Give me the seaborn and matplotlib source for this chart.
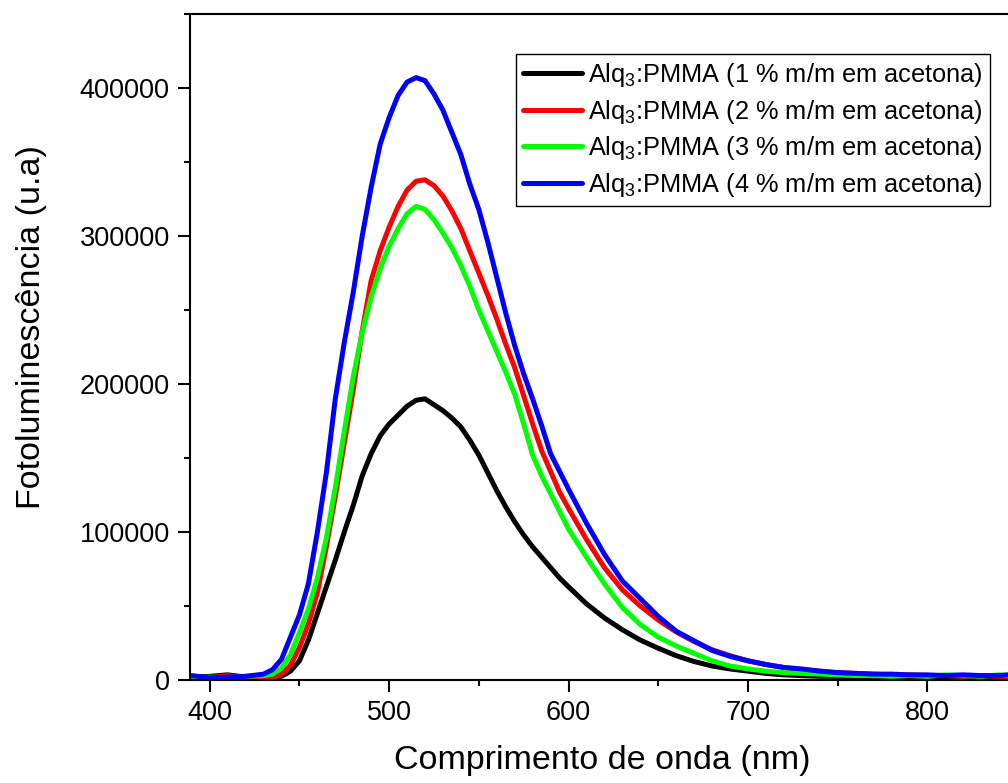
import matplotlib
matplotlib.use("Agg")
import matplotlib.pyplot as plt
import seaborn as sns
import pandas as pd
from matplotlib.ticker import MultipleLocator

# wavelength grid (nm)
wavelength = [390, 400, 410, 420,
              430, 435, 440, 445, 450, 455, 460, 465, 470, 475, 480, 485, 490, 495,
              500, 505, 510, 515, 520, 525, 530, 535, 540, 545, 550, 555, 560, 565,
              570, 575, 580, 585, 590, 595, 600,
              610, 620, 630, 640, 650, 660, 670, 680, 690, 700, 710, 720, 730, 740,
              750, 760, 770, 780, 790, 800, 810, 820, 830, 840, 845]

pl_1 = [2000, 2500, 3500, 2000,
        1500, 1500, 2500, 6000, 13000, 27000, 45000, 63000, 81000, 100000, 118000, 138000, 153000, 165000,
        173000, 179000, 185000, 189000, 190000, 186000, 182000, 177000, 171000, 162000, 152000, 140000, 128000, 117000,
        107000, 98000, 90000, 83000, 76000, 69000, 63000,
        51500, 42000, 34000, 27000, 21500, 16500, 12500, 9500, 7500, 6000, 4500, 3500, 3000, 2500,
        2500, 2000, 2500, 2000, 2000, 2500, 2000, 2000, 2500, 2000, 2000]

pl_2 = [2500, 1500, 3000, 1500,
        1000, 1500, 4000, 10000, 22000, 38000, 59000, 90000, 124000, 160000, 196000, 236000, 270000, 290000,
        306000, 320000, 331000, 337000, 338000, 334000, 327000, 317000, 305000, 290000, 275000, 260000, 244000, 227000,
        211000, 192000, 173000, 155000, 141000, 127000, 116000,
        95000, 76000, 61000, 50000, 40500, 32500, 26000, 20500, 16500, 13000, 10500, 8500, 7000, 6000,
        5000, 4500, 4000, 3500, 3500, 3000, 3000, 2500, 3000, 2500, 2500]

pl_3 = [1500, 2000, 1500, 2500,
        3000, 4000, 8000, 17000, 32000, 48000, 69000, 96000, 130000, 168000, 205000, 235000, 259000, 278000,
        293000, 305000, 315000, 320000, 318000, 311000, 302000, 292000, 280000, 266000, 250000, 236000, 222000, 208000,
        193000, 173000, 152000, 138000, 126000, 114000, 102000,
        83000, 65000, 49000, 37500, 29000, 23000, 18000, 13000, 9500, 7500, 6000, 5000, 4500, 4000,
        3500, 3000, 3000, 2500, 3000, 2500, 3500, 3000, 2500, 3500, 3000]

pl_4 = [3000, 1500, 2000, 2500,
        4000, 7000, 14000, 29000, 44000, 65000, 100000, 140000, 190000, 228000, 262000, 300000, 333000, 362000,
        380000, 395000, 404000, 407000, 405000, 396000, 385000, 370000, 355000, 335000, 318000, 296000, 272000, 248000,
        226000, 207000, 190000, 172000, 153000, 141000, 129000,
        106000, 85000, 67000, 55000, 43000, 33000, 26500, 20000, 16000, 13000, 10500, 8500, 7500, 6000,
        5000, 4500, 4000, 4000, 3500, 3500, 3000, 3500, 3000, 3000, 3500]

labels = [r"Alq$_3$:PMMA (1 % m/m em acetona)",
          r"Alq$_3$:PMMA (2 % m/m em acetona)",
          r"Alq$_3$:PMMA (3 % m/m em acetona)",
          r"Alq$_3$:PMMA (4 % m/m em acetona)"]
colors = ["#000000", "#ff0000", "#00ff00", "#0000ff"]

frames = []
for lab, vals in zip(labels, [pl_1, pl_2, pl_3, pl_4]):
    frames.append(pd.DataFrame({"wl": wavelength, "pl": vals, "amostra": lab}))
df = pd.concat(frames, ignore_index=True)

sns.set_style("ticks")
plt.rcParams["font.family"] = ["Liberation Sans", "DejaVu Sans"]
plt.rcParams["mathtext.default"] = "regular"
plt.rcParams["text.color"] = "black"
plt.rcParams["axes.labelcolor"] = "black"

fig = plt.figure(figsize=(10.08, 7.83), dpi=100)
ax = fig.add_axes([0.1885, 0.1315, 0.8115, 0.8506])

sns.lineplot(data=df, x="wl", y="pl", hue="amostra", palette=colors,
             linewidth=3.6, estimator=None, sort=True, ax=ax)

ax.set_xlim(389, 845)
ax.set_ylim(0, 450000)
ax.xaxis.set_major_locator(MultipleLocator(100))
ax.xaxis.set_minor_locator(MultipleLocator(50))
ax.yaxis.set_major_locator(MultipleLocator(100000))
ax.yaxis.set_minor_locator(MultipleLocator(50000))

for side in ["left", "bottom", "top"]:
    ax.spines[side].set_linewidth(1.5)
    ax.spines[side].set_color("black")
ax.spines["right"].set_visible(False)

ax.tick_params(which="major", direction="out", length=8.5, width=1.5,
               labelsize=19.5, pad=6, colors="black")
ax.tick_params(which="minor", direction="out", length=4.2, width=1.5, colors="black")
ax.tick_params(top=False, right=False)

ax.set_xlabel("Comprimento de onda (nm)", fontsize=24.5, color="black")
ax.set_ylabel("Fotoluminescência (u.a)", fontsize=24.5, color="black")
ax.xaxis.set_label_coords(0.504, -0.097)
ax.yaxis.set_label_coords(-0.175, 0.53)

handles, _ = ax.get_legend_handles_labels()
leg = ax.legend(handles, labels, loc="upper right", bbox_to_anchor=(0.978, 0.94),
                fontsize=18.3, frameon=True, fancybox=False, framealpha=1,
                edgecolor="black", borderaxespad=0, borderpad=0.28,
                handlelength=2.3, handletextpad=0.25, labelspacing=0.34)
leg.get_frame().set_linewidth(1.0)
for line in leg.get_lines():
    line.set_linewidth(3.6)
for t in leg.get_texts():
    t.set_color("black")

fig.savefig("out.png", dpi=100)
